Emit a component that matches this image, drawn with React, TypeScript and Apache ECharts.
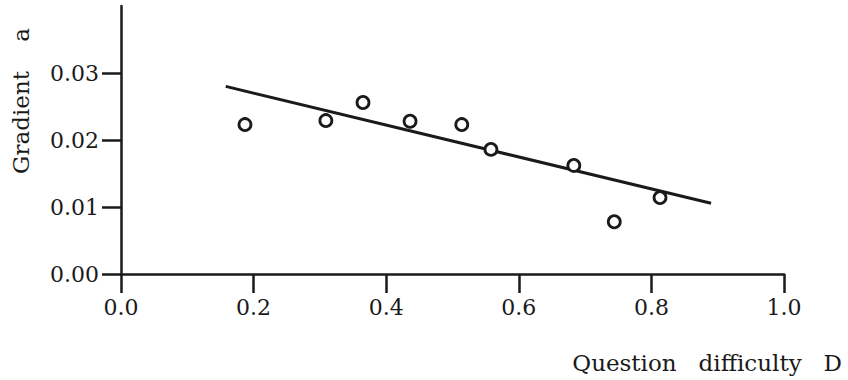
import React, { useEffect, useRef } from "react";
import * as echarts from "echarts";

// Observed points: question difficulty D vs gradient a
const difficulty = [0.187, 0.309, 0.365, 0.436, 0.514, 0.558, 0.683, 0.744, 0.813];
const gradient = [0.0223, 0.0229, 0.0256, 0.0228, 0.0223, 0.0186, 0.0162, 0.0078, 0.0114];

// Fitted regression line end points
const fitX = [0.158, 0.89];
const fitY = [0.028, 0.01055];

const xTickValues = [0, 0.2, 0.4, 0.6, 0.8, 1.0];
const yTickValues = [0, 0.01, 0.02, 0.03];

const yAxisTitle = "Gradient    a";
const xAxisTitle = "Question   difficulty   D";

const INK = "#1a1a1a";
const FONT = "DejaVu Serif";

export default function App() {
  const ref = useRef<HTMLDivElement>(null);

  useEffect(() => {
    if (!ref.current) return;
    const chart = echarts.init(ref.current, undefined, { renderer: "svg" });
    const points = difficulty.map((d, i) => [d, gradient[i]]);
    const fit = fitX.map((x, i) => [x, fitY[i]]);
    chart.setOption({
      animation: false,
      backgroundColor: "#ffffff",
      grid: { left: 121, right: 64, top: 6, bottom: 106, containLabel: false },
      xAxis: {
        type: "value",
        min: 0,
        max: 1,
        interval: 0.2,
        axisLine: { show: true, onZero: false, lineStyle: { color: INK, width: 2.5 } },
        axisTick: { show: true, inside: false, length: 19, customValues: xTickValues, lineStyle: { color: INK, width: 2.5 } },
        axisLabel: {
          customValues: xTickValues,
          formatter: (v: number) => v.toFixed(1),
          color: INK,
          fontFamily: FONT,
          fontSize: 22,
          margin: 22,
        },
        splitLine: { show: false },
      },
      yAxis: {
        type: "value",
        min: 0,
        max: 0.04,
        interval: 0.01,
        axisLine: { show: true, onZero: false, lineStyle: { color: INK, width: 2.5 } },
        axisTick: { show: true, inside: false, length: 19, customValues: yTickValues, lineStyle: { color: INK, width: 2.5 } },
        axisLabel: {
          customValues: yTickValues,
          formatter: (v: number) => v.toFixed(2),
          color: INK,
          fontFamily: FONT,
          fontSize: 22,
          margin: 22,
        },
        splitLine: { show: false },
      },
      series: [
        {
          type: "line",
          data: fit,
          symbol: "none",
          lineStyle: { color: INK, width: 3 },
          z: 2,
        },
        {
          type: "scatter",
          data: points,
          symbol: "circle",
          symbolSize: 12,
          itemStyle: { color: "#ffffff", borderColor: INK, borderWidth: 2.8, opacity: 1 },
          z: 3,
        },
      ],
      graphic: [
        {
          type: "text",
          x: 21,
          y: 101,
          rotation: Math.PI / 2,
          style: {
            text: yAxisTitle,
            fill: INK,
            font: `23px "${FONT}"`,
            align: "center",
            verticalAlign: "middle",
          },
        },
        {
          type: "text",
          x: 842,
          y: 363,
          style: {
            text: xAxisTitle,
            fill: INK,
            font: `23px "${FONT}"`,
            align: "right",
            verticalAlign: "middle",
          },
        },
      ],
    });
    return () => chart.dispose();
  }, []);

  return (
    <div
      ref={ref}
      style={{ position: "absolute", left: 0, top: 0, width: 848, height: 380 }}
    />
  );
}
